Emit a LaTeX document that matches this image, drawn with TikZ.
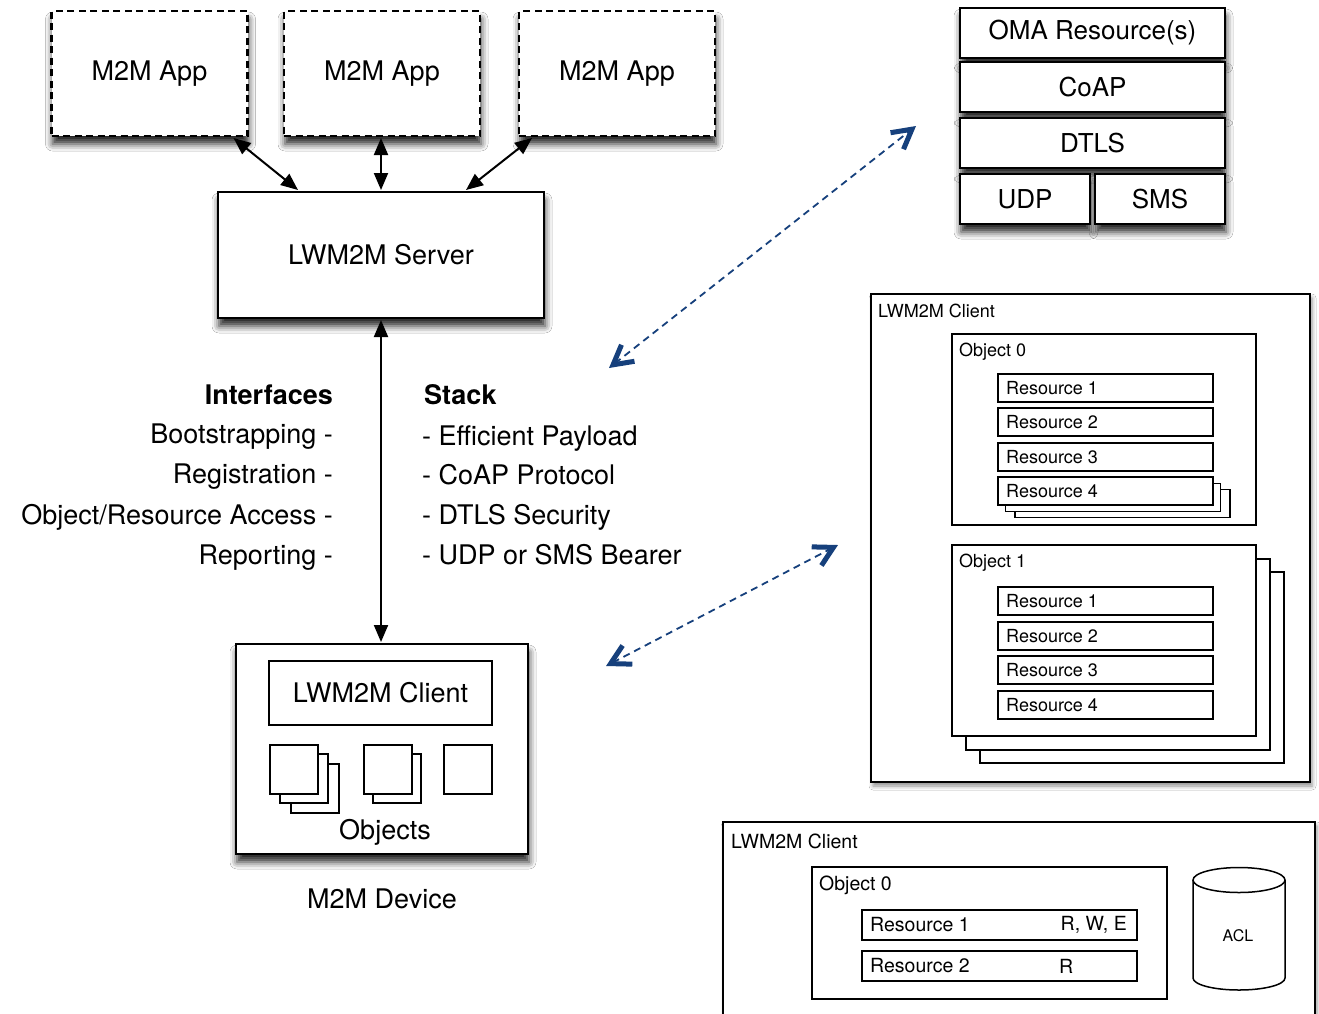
\documentclass[tikz,border=0pt]{standalone}
\usepackage{fontspec}
\setmainfont{TeX Gyre Heros}
\usetikzlibrary{arrows.meta,shadows.blur,calc}
\definecolor{arrowblue}{RGB}{22,64,124}
\newcommand\FontL{\fontsize{27}{32}\selectfont}
\newcommand\FontK{\fontsize{26}{31}\selectfont}
\newcommand\FontS{\fontsize{18}{22}\selectfont}
\newcommand\FontT{\fontsize{19.5}{23}\selectfont}
\newcommand\FontA{\fontsize{16}{19}\selectfont}
\tikzset{
  shad/.style={blur shadow={shadow xshift=1pt, shadow yshift=-8pt, shadow blur radius=7pt, shadow opacity=85}},
  lightshad/.style={blur shadow={shadow xshift=2pt, shadow yshift=-4pt, shadow blur radius=4pt, shadow opacity=45}},
  box/.style={draw, fill=white, inner sep=0pt, outer sep=0pt},
  appbox/.style={box, line width=2.5pt, dash pattern=on 7pt off 4.5pt, minimum width=196pt, minimum height=125pt, shad, font=\FontL},
  serverbox/.style={box, line width=2.3pt, minimum width=326pt, minimum height=126pt, shad, font=\FontL},
  stackbox/.style={box, line width=2.5pt, minimum height=50pt, font=\FontK, shad},
  clientbox/.style={box, line width=1.6pt},
  resbox/.style={box, line width=1.5pt, minimum width=215pt, minimum height=28pt},
  bresbox/.style={box, line width=1.5pt, minimum width=275pt, minimum height=30pt},
  sq/.style={box, line width=2pt, minimum width=48pt, minimum height=49pt},
  lbl/.style={inner sep=0pt, anchor=west},
  blkarrow/.style={line width=2pt, {Triangle[length=17pt,width=14pt]}-{Triangle[length=17pt,width=14pt]}},
  bluearrow/.style={arrowblue, line width=1.8pt, dash pattern=on 7pt off 5pt,
     {Straight Barb[length=19pt,width=21pt,line width=5pt]}-{Straight Barb[length=19pt,width=21pt,line width=5pt]}},
  txt/.style={inner sep=0pt, font=\FontL}
}
\begin{document}
\begin{tikzpicture}[x=1pt,y=-1pt]
\useasboundingbox[fill=white] (0,0) rectangle (1319,1013);

% M2M Apps
\node[appbox] (app1) at (149.5,73.5) {M2M App};
\node[appbox] (app2) at (382,73.5) {M2M App};
\node[appbox] (app3) at (617,73.5) {M2M App};

% Server
\node[serverbox] (server) at (381,255) {LWM2M Server};

\draw[blkarrow] ([shift={(-14,2)}]app1.south east) -- ([shift={(-83,-2)}]server.north);
\draw[blkarrow] ([shift={(-1,2)}]app2.south) -- ([shift={(0,-2)}]server.north);
\draw[blkarrow] ([shift={(13,2)}]app3.south west) -- ([shift={(85,-2)}]server.north);

% Interfaces / Stack text
\node[txt, anchor=base east, font=\FontL\bfseries] (ifc) at (333,404) {Interfaces};
\node[txt, anchor=base east] (ifc1) at (333,443) {Bootstrapping -};
\node[txt, anchor=base east] (ifc2) at (333,483) {Registration -};
\node[txt, anchor=base east] (ifc3) at (333,524) {Object/Resource Access -};
\node[txt, anchor=base east] (ifc4) at (333,564) {Reporting -};

\node[txt, anchor=base west, font=\FontL\bfseries] (stk) at (424,404) {Stack};
\node[txt, anchor=base west] (stk1) at (422,445) {- Efficient Payload};
\node[txt, anchor=base west] (stk2) at (422,484) {- CoAP Protocol};
\node[txt, anchor=base west] (stk3) at (422,524) {- DTLS Security};
\node[txt, anchor=base west] (stk4) at (422,564) {- UDP or SMS Bearer};

% M2M Device
\node[box, line width=2.5pt, minimum width=292pt, minimum height=210pt, shad] (device) at (382,749) {};
\node[box, line width=2pt, minimum width=223pt, minimum height=64pt, font=\FontL] (dclient) at (380.5,693) {LWM2M Client};
\node[sq] (sq1c) at (315,788) {};
\node[sq] (sq1b) at (304,778.5) {};
\node[sq] (sq1a) at (294,769.5) {};
\node[sq] (sq2b) at (397,778) {};
\node[sq] (sq2a) at (388,769.5) {};
\node[sq] (sq3) at (467.5,769.5) {};
\node[txt] (objs) at (385,832) {Objects};
\node[txt] (devlbl) at (382,899) {M2M Device};

\draw[blkarrow] ([shift={(0,2)}]server.south) -- ([shift={(0,-2)}]server.south |- device.north);

% Stack boxes
\node[stackbox, minimum width=265pt] (oma) at (1092.5,33) {OMA Resource(s)};
\node[stackbox, minimum width=265pt] (coap) at (1092.5,87) {CoAP};
\node[stackbox, minimum width=265pt] (dtls) at (1092.5,143) {DTLS};
\node[stackbox, minimum width=130pt] (udp) at (1025,199) {UDP};
\node[stackbox, minimum width=130pt] (sms) at (1160,199) {SMS};

% Blue arrows
\coordinate (b1s) at (609,368);
\coordinate (b1e) at (916,126);
\draw[bluearrow] (b1s) -- (b1e);
\coordinate (b2s) at (606,666);
\coordinate (b2e) at (838,545);
\draw[bluearrow] (b2s) -- (b2e);

% Right LWM2M Client
\node[clientbox, line width=1.8pt, minimum width=439pt, minimum height=488pt, lightshad] (rclient) at (1090.5,538) {};
\node[lbl, font=\FontS] (rclbl) at ([shift={(7,17)}]rclient.north west) {LWM2M Client};

\node[clientbox, minimum width=304pt, minimum height=191pt] (obj0) at (1104,429.5) {};
\node[lbl, font=\FontS] (obj0lbl) at ([shift={(7,18)}]obj0.north west) {Object 0};
\node[resbox] (r0c2) at (1122.5,503.5) {};
\node[resbox] (r0c1) at (1113,497.5) {};
\foreach \n/\y in {1/388,2/422,3/457,4/491}{
  \node[resbox] (r0\n) at (1105.5,\y) {};
  \node[lbl, font=\FontS] (r0\n t) at ([shift={(8,0)}]r0\n.west) {Resource \n};
}

\node[clientbox, minimum width=304pt, minimum height=191pt] (obj1c2) at (1132,667.5) {};
\node[clientbox, minimum width=304pt, minimum height=191pt] (obj1c1) at (1118,654.5) {};
\node[clientbox, minimum width=304pt, minimum height=191pt] (obj1) at (1104,640.5) {};
\node[lbl, font=\FontS] (obj1lbl) at ([shift={(7,18)}]obj1.north west) {Object 1};
\foreach \n/\y in {1/601,2/636,3/670,4/705}{
  \node[resbox] (r1\n) at (1105.5,\y) {};
  \node[lbl, font=\FontS] (r1\n t) at ([shift={(8,0)}]r1\n.west) {Resource \n};
}

% Bottom LWM2M Client
\node[clientbox, line width=1.8pt, minimum width=592pt, minimum height=216pt, lightshad] (bclient) at (1019,930) {};
\node[lbl, font=\FontT] (bclbl) at ([shift={(8,19)}]bclient.north west) {LWM2M Client};
\node[clientbox, minimum width=355pt, minimum height=132pt] (bobj) at (989.5,933) {};
\node[lbl, font=\FontT] (bobjlbl) at ([shift={(7,18)}]bobj.north west) {Object 0};
\node[bresbox] (br1) at (999.5,925) {};
\node[lbl, font=\FontT] (br1t) at ([shift={(8,0)}]br1.west) {Resource 1};
\node[inner sep=0pt, anchor=east, font=\FontT] (br1p) at ([shift={(-10,0)}]br1.east) {R, W, E};
\node[bresbox] (br2) at (999.5,966) {};
\node[lbl, font=\FontT] (br2t) at ([shift={(8,0)}]br2.west) {Resource 2};
\node[lbl, font=\FontT] (br2p) at (1059,966) {R};

% ACL cylinder
\fill[white] (1193,880) -- (1193,978) arc[start angle=180, end angle=0, x radius=46, y radius=12] -- (1285,880) -- cycle;
\draw[line width=1.5pt] (1193,880) -- (1193,978) arc[start angle=180, end angle=0, x radius=46, y radius=12] -- (1285,880);
\draw[line width=1.5pt, fill=white] (1239,880) ellipse [x radius=46, y radius=12.5];
\node[inner sep=0pt, font=\FontA] (acl) at (1238,936) {ACL};
\end{tikzpicture}
\end{document}
